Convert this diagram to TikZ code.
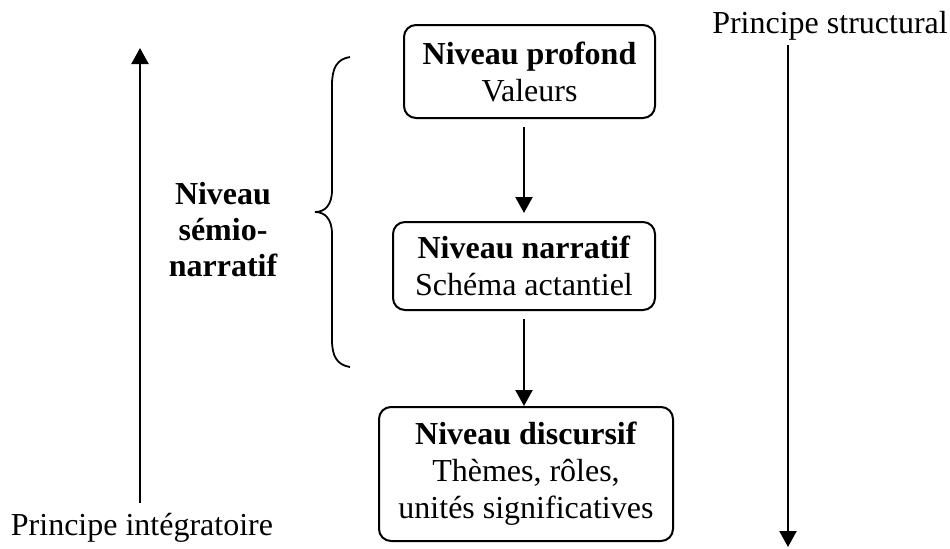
\documentclass[tikz,border=0pt]{standalone}
\usepackage{fontspec}
\setmainfont{Liberation Serif}
\usetikzlibrary{arrows.meta}
\tikzset{
  x=0.5pt, y=-0.5pt,
  txt/.style={font=\fontsize{16}{18.5}\selectfont, inner sep=0pt, align=center},
  levelbox/.style={txt, draw, line width=1pt, rounded corners=6pt},
  arr/.style={line width=1.1pt, -{Triangle[width=8.5pt,length=8pt]}},
}
\begin{document}
\begin{tikzpicture}
\useasboundingbox (0,0) rectangle (950,548);
% boxes
\node[levelbox, minimum width=125.5pt, minimum height=46.5pt] (b1) at (529.5,71.5)
  {\textbf{Niveau profond}\\Valeurs};
\node[levelbox, minimum width=131pt, minimum height=44pt] (b2) at (524,266)
  {\textbf{Niveau narratif}\\Schéma actantiel};
\node[levelbox, minimum width=147pt, minimum height=67pt] (b3) at (526,474)
  {\textbf{Niveau discursif}\\Thèmes, rôles,\\unités significatives};
% connectors between boxes
\draw[arr, shorten <=4pt, shorten >=4pt] (b2.north |- b1.south) -- (b2.north);
\draw[arr, shorten <=4pt] (b2.south) -- (b2.south |- b3.north);
% left principle
\coordinate (la1) at (140,503);
\coordinate (la2) at (140,48);
\draw[arr] (la1) -- (la2);
\node[txt, anchor=base] (pi) at (142,535) {Principe intégratoire};
% right principle
\coordinate (ra1) at (788,45);
\coordinate (ra2) at (788,547);
\draw[arr] (ra1) -- (ra2);
\node[txt, anchor=base] (ps) at (830,33) {Principe structural};
% brace
\draw[line width=0.9pt] (350,57) .. controls (337,59) and (332,68) .. (332,85)
  -- (332,190) .. controls (332,205) and (325,212) .. (315,212)
  .. controls (325,212) and (332,219) .. (332,234)
  -- (332,340) .. controls (332,356) and (337,365) .. (350,367);
% semio-narratif label
\node[txt, font=\fontsize{16}{18}\selectfont\bfseries] (sn) at (223,230)
  {Niveau\\sémio-\\narratif};
\end{tikzpicture}
\end{document}
